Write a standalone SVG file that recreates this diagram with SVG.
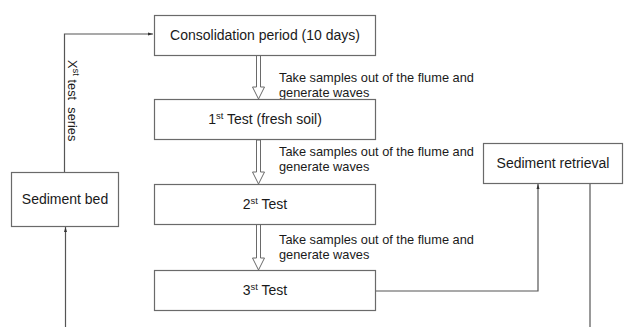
<svg xmlns="http://www.w3.org/2000/svg" width="643" height="327" viewBox="0 0 643 327">
<style>
.box{fill:#fff;stroke:#6a6a6a;stroke-width:1.2}
.t{font-family:"Liberation Sans",Arial,sans-serif;font-size:14px;fill:#1a1a1a;text-anchor:middle}
.s{font-family:"Liberation Sans",Arial,sans-serif;font-size:12.8px;fill:#1a1a1a}
.sup{font-size:9.5px}
.ln{fill:none;stroke:#555;stroke-width:1.2}
.blk{fill:#fff;stroke:#6a6a6a;stroke-width:1}
</style>
<defs>
<marker id="ah" markerWidth="6" markerHeight="6" refX="5" refY="3" orient="auto" markerUnits="userSpaceOnUse">
<path d="M0,1.5 L5,3 L0,4.5 Z" fill="#333"/>
</marker>
</defs>
<g id="connectors">
<path class="ln" d="M64.5,172 V34 H153" marker-end="url(#ah)"/>
<path class="ln" d="M65.5,327 V227" marker-end="url(#ah)"/>
<path class="ln" d="M375,291 H538 V184" marker-end="url(#ah)"/>
<path class="ln" d="M590,183 V327"/>
<polygon class="blk" points="256.5,55 260.5,55 260.5,87 264.5,87 258.5,99 252.5,87 256.5,87"/>
<polygon class="blk" points="256.5,140 260.5,140 260.5,172 264.5,172 258.5,184 252.5,172 256.5,172"/>
<polygon class="blk" points="256.5,224 260.5,224 260.5,258 264.5,258 258.5,270 252.5,258 256.5,258"/>
<text class="s" transform="translate(68,60) rotate(90)" xml:space="preserve">X<tspan class="sup" dy="-5">st</tspan><tspan dy="5"> test  series</tspan></text>
<text class="s" x="279" y="82">Take samples out of the flume and</text>
<text class="s" x="279" y="97">generate waves</text>
<text class="s" x="279" y="156">Take samples out of the flume and</text>
<text class="s" x="279" y="171">generate waves</text>
<text class="s" x="279" y="244">Take samples out of the flume and</text>
<text class="s" x="279" y="259">generate waves</text>
</g>
<g id="consolidation">
<rect class="box" x="154.5" y="15.5" width="221" height="40"/>
<text class="t" x="265" y="40">Consolidation period (10 days)</text>
</g>
<g id="test1">
<rect class="box" x="154.5" y="99.5" width="221" height="40"/>
<text class="t" x="265" y="124">1<tspan class="sup" dy="-5">st</tspan><tspan dy="5"> Test (fresh soil)</tspan></text>
</g>
<g id="test2">
<rect class="box" x="154.5" y="184.5" width="221" height="40"/>
<text class="t" x="265" y="209">2<tspan class="sup" dy="-5">st</tspan><tspan dy="5"> Test</tspan></text>
</g>
<g id="test3">
<rect class="box" x="154.5" y="270.5" width="221" height="40"/>
<text class="t" x="265" y="295">3<tspan class="sup" dy="-5">st</tspan><tspan dy="5"> Test</tspan></text>
</g>
<g id="sediment-bed">
<rect class="box" x="11.5" y="172.5" width="107" height="54"/>
<text class="t" x="65" y="204">Sediment bed</text>
</g>
<g id="sediment-retrieval">
<rect class="box" x="483.5" y="143.5" width="139" height="40"/>
<text class="t" x="553" y="168">Sediment retrieval</text>
</g>
</svg>
